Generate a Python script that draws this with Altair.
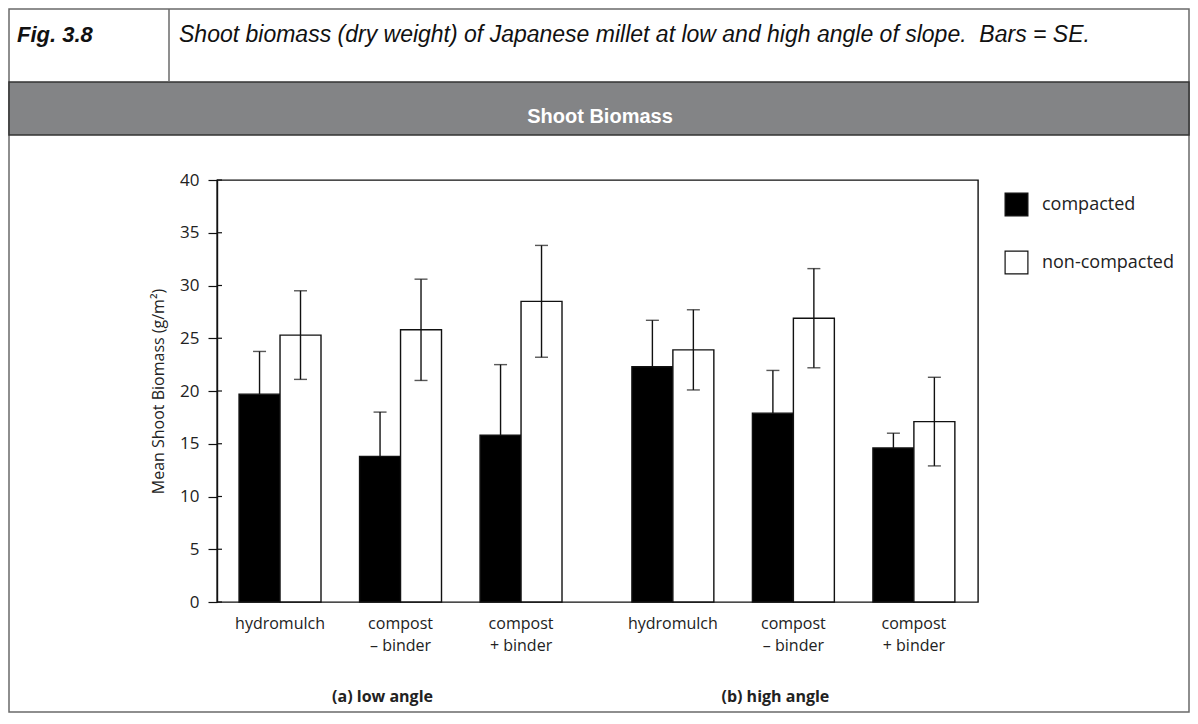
import altair as alt
import pandas as pd

# ---------------- data ----------------
treatments = ["hydromulch", "compost\n\u2013 binder", "compost\n+ binder"]
angles = ["(a) low angle", "(b) high angle"]
series = ["compacted", "non-compacted"]
compacted_mean = [19.7, 13.8, 15.8, 22.3, 17.9, 14.6]
compacted_se = [4.05, 4.2, 6.7, 4.4, 4.05, 1.4]
noncompacted_mean = [25.3, 25.8, 28.5, 23.9, 26.9, 17.1]
noncompacted_se = [4.2, 4.8, 5.3, 3.8, 4.7, 4.2]
y_ticks = [0, 5, 10, 15, 20, 25, 30, 35, 40]

fig_label = "Fig. 3.8"
caption = "Shoot biomass (dry weight) of Japanese millet at low and high angle of slope.\u00a0 Bars = SE."
band_title = "Shoot Biomass"
y_title = "Mean Shoot Biomass (g/m\u00b2)"

# ---------------- layout ----------------
W, H = 761, 422
BAR_W = 0.34          # bar width in group-step units
ANGLE_GAP = 0.26      # extra gap between the two angle blocks
X_DOMAIN = [-0.523, 5.792]
FONT = "Open Sans"
TXT = "#222222"

means = [compacted_mean, noncompacted_mean]
ses = [compacted_se, noncompacted_se]

rows, label_rows = [], []
for i in range(6):
    a = i // 3
    pos = i + a * ANGLE_GAP
    label_rows.append({"pos": pos, "label": treatments[i % 3]})
    for s in range(2):
        x0 = pos - BAR_W + s * BAR_W
        m = means[s][i]
        e = ses[s][i]
        rows.append({
            "series": series[s], "x0": x0, "x1": x0 + BAR_W, "xc": x0 + BAR_W / 2,
            "mean": m, "base": 0.0, "lo": m - e, "hi": m + e,
        })
df = pd.DataFrame(rows)
labels_df = pd.DataFrame(label_rows)
angle_df = pd.DataFrame({"pos": [1.0, 4.0 + ANGLE_GAP], "label": angles})
ticks_df = pd.DataFrame({"t": y_ticks})
one = pd.DataFrame({"k": [0]})

xs = alt.Scale(domain=X_DOMAIN, nice=False, zero=False)
ys = alt.Scale(domain=[0, 40], nice=False)

base = alt.Chart(df)

bars = base.mark_rect(stroke="#111111", strokeWidth=1.4).encode(
    x=alt.X("x0:Q", scale=xs, axis=None),
    x2="x1:Q",
    y=alt.Y("mean:Q", scale=ys, axis=alt.Axis(
        values=y_ticks, grid=False, tickSize=9, tickColor="#111111", tickWidth=1.2,
        domainColor="#111111", domainWidth=1.4,
        labelFont=FONT, labelFontSize=17, labelColor=TXT, labelPadding=9,
        title=y_title, titleFont=FONT, titleFontSize=16, titleFontWeight="normal",
        titleColor=TXT, titleX=-59, titleY=211, titleAngle=-90,
        titleAlign="center", titleBaseline="middle",
    )),
    y2="base:Q",
    fill=alt.Fill("series:N", scale=alt.Scale(domain=series, range=["#000000", "#ffffff"]),
                  legend=alt.Legend(
                      orient="none", legendX=787, legendY=12, title=None,
                      symbolType="square", symbolSize=520, symbolStrokeColor="#111111",
                      symbolStrokeWidth=1.2, labelFont=FONT, labelFontSize=18,
                      labelColor=TXT, labelOffset=13, rowPadding=29,
                  )),
)

# upper whiskers for all bars; lower whiskers hidden inside black bars in the original
err_hi = base.mark_rule(color="#111111", strokeWidth=1.4).encode(
    x=alt.X("xc:Q", scale=xs), y=alt.Y("mean:Q", scale=ys), y2="hi:Q")
err_lo = base.transform_filter(alt.datum.series == "non-compacted").mark_rule(
    color="#111111", strokeWidth=1.4).encode(
    x=alt.X("xc:Q", scale=xs), y=alt.Y("lo:Q", scale=ys), y2="mean:Q")
cap_hi = base.mark_tick(orient="horizontal", size=13, thickness=1.4, color="#111111").encode(
    x=alt.X("xc:Q", scale=xs), y=alt.Y("hi:Q", scale=ys))
cap_lo = base.transform_filter(alt.datum.series == "non-compacted").mark_tick(
    orient="horizontal", size=13, thickness=1.4, color="#111111").encode(
    x=alt.X("xc:Q", scale=xs), y=alt.Y("lo:Q", scale=ys))

inner_ticks = alt.Chart(ticks_df).mark_rule(color="#111111", strokeWidth=1.2).encode(
    y=alt.Y("t:Q", scale=ys), x=alt.value(0), x2=alt.value(5))

xlabels = alt.Chart(labels_df).mark_text(
    font=FONT, fontSize=16, color=TXT, align="center", baseline="alphabetic",
    lineBreak="\n", lineHeight=22,
).encode(x=alt.X("pos:Q", scale=xs), y=alt.value(449), text="label:N")

anglelabels = alt.Chart(angle_df).mark_text(
    font=FONT, fontSize=16, fontWeight="bold", color=TXT, align="center",
    baseline="alphabetic", dx=-18,
).encode(x=alt.X("pos:Q", scale=xs), y=alt.value(522), text="label:N")

# ---------------- header / frame decorations ----------------
L, R, T, B = -208, 972, -171, 532
outer = alt.Chart(one).mark_rect(fill="transparent", stroke="#6a6a6a", strokeWidth=1.5).encode(
    x=alt.value(L), x2=alt.value(R), y=alt.value(T), y2=alt.value(B))
band = alt.Chart(one).mark_rect(fill="#838486", stroke="#333333", strokeWidth=1.5).encode(
    x=alt.value(L), x2=alt.value(R), y=alt.value(-98), y2=alt.value(-45))
divider = alt.Chart(one).mark_rule(color="#6a6a6a", strokeWidth=1.5).encode(
    x=alt.value(-48), y=alt.value(T), y2=alt.value(-98))
fig_txt = alt.Chart(one).mark_text(
    text=fig_label, font="Liberation Sans", fontSize=22, fontWeight="bold", fontStyle="italic",
    color="#111111", align="left", baseline="alphabetic",
).encode(x=alt.value(-200), y=alt.value(-138))
cap_txt = alt.Chart(one).mark_text(
    text=caption, font="Liberation Sans", fontSize=23, fontStyle="italic",
    color="#111111", align="left", baseline="alphabetic",
).encode(x=alt.value(-38), y=alt.value(-138))
band_txt = alt.Chart(one).mark_text(
    text=band_title, font="Liberation Sans", fontSize=20, fontWeight="bold",
    color="#ffffff", align="center", baseline="alphabetic",
).encode(x=alt.value(383), y=alt.value(-57))

chart = alt.layer(
    outer, band, divider, fig_txt, cap_txt, band_txt,
    bars, err_hi, err_lo, cap_hi, cap_lo, inner_ticks, xlabels, anglelabels,
).properties(
    width=W, height=H,
    autosize=alt.AutoSizeParams(type="none"),
    padding={"left": 209, "top": 172, "right": 212, "bottom": 112},
    background="#ffffff",
).configure_view(stroke="#111111", strokeWidth=1.4)

chart.save("out.html", embed_options={"renderer": "svg", "actions": False})
